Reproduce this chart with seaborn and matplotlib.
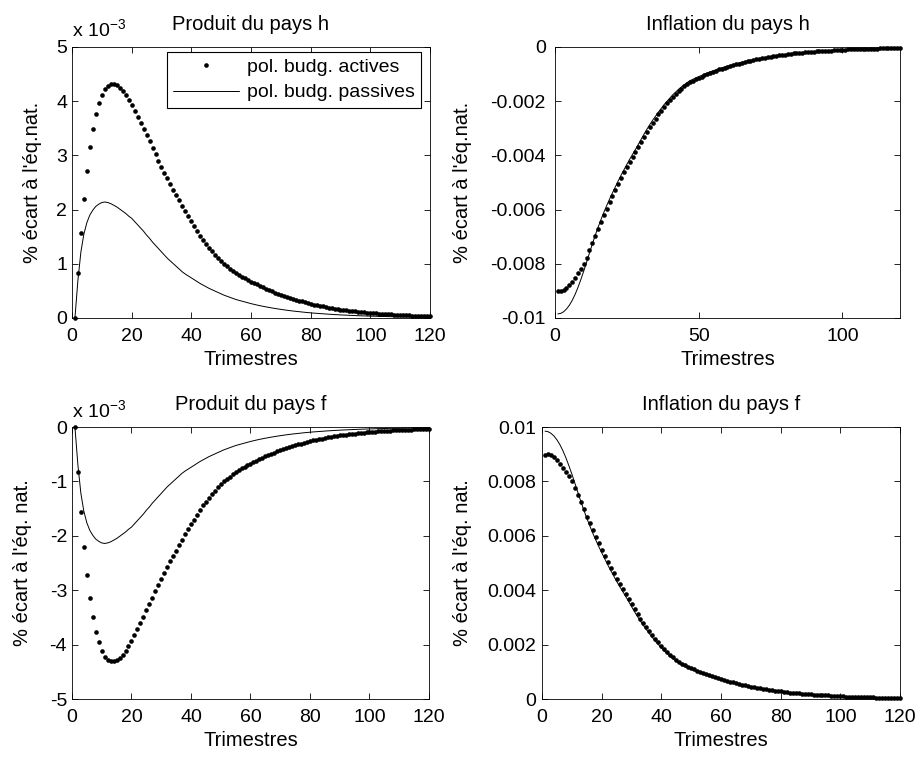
import matplotlib
matplotlib.use("Agg")
import matplotlib.pyplot as plt
import seaborn as sns

# Horizon (quarters)
trimestres = list(range(1, 121))

# Output responses, in units of 1e-3
produit_h_actives = [
    0.00, 0.83, 1.56, 2.20, 2.72, 3.15, 3.49, 3.76, 3.96, 4.12,
    4.22, 4.28, 4.31, 4.31, 4.29, 4.25, 4.19, 4.11, 4.02, 3.93,
    3.82, 3.71, 3.60, 3.49, 3.37, 3.26, 3.14, 3.02, 2.90, 2.79,
    2.68, 2.58, 2.47, 2.37, 2.27, 2.17, 2.07, 1.97, 1.88, 1.79,
    1.70, 1.61, 1.52, 1.44, 1.37, 1.30, 1.23, 1.17, 1.11, 1.05,
    1.00, 0.95, 0.91, 0.87, 0.83, 0.79, 0.76, 0.73, 0.70, 0.67,
    0.645, 0.62, 0.59, 0.565, 0.54, 0.515, 0.49, 0.47, 0.445, 0.425,
    0.405, 0.385, 0.365, 0.35, 0.335, 0.32, 0.305, 0.29, 0.275, 0.26,
    0.247, 0.235, 0.223, 0.212, 0.201, 0.191, 0.181, 0.172, 0.163, 0.155,
    0.147, 0.140, 0.133, 0.126, 0.120, 0.114, 0.108, 0.103, 0.098, 0.093,
    0.088, 0.084, 0.080, 0.076, 0.072, 0.068, 0.065, 0.062, 0.059, 0.056,
    0.053, 0.050, 0.048, 0.045, 0.043, 0.041, 0.039, 0.037, 0.035, 0.033,
]
produit_h_passives = [
    0.00, 0.70, 1.22, 1.55, 1.76, 1.90, 1.99, 2.06, 2.10, 2.13,
    2.14, 2.13, 2.11, 2.08, 2.05, 2.01, 1.97, 1.93, 1.88, 1.84,
    1.78, 1.72, 1.66, 1.60, 1.53, 1.47, 1.40, 1.34, 1.28, 1.22,
    1.16, 1.10, 1.05, 1.00, 0.95, 0.90, 0.85, 0.81, 0.775, 0.74,
    0.705, 0.67, 0.635, 0.605, 0.575, 0.545, 0.52, 0.495, 0.47, 0.445,
    0.42, 0.40, 0.38, 0.36, 0.34, 0.325, 0.31, 0.295, 0.28, 0.265,
    0.252, 0.239, 0.227, 0.216, 0.205, 0.195, 0.185, 0.176, 0.167, 0.159,
    0.151, 0.143, 0.136, 0.129, 0.123, 0.117, 0.111, 0.105, 0.100, 0.095,
    0.090, 0.086, 0.082, 0.078, 0.074, 0.070, 0.067, 0.063, 0.060, 0.057,
    0.054, 0.052, 0.049, 0.047, 0.044, 0.042, 0.040, 0.038, 0.036, 0.034,
    0.033, 0.031, 0.029, 0.028, 0.027, 0.025, 0.024, 0.023, 0.022, 0.021,
    0.020, 0.019, 0.018, 0.017, 0.016, 0.015, 0.014, 0.014, 0.013, 0.012,
]
produit_f_actives = [
    -0.00, -0.83, -1.56, -2.20, -2.72, -3.15, -3.49, -3.76, -3.96, -4.12,
    -4.22, -4.28, -4.31, -4.31, -4.29, -4.25, -4.19, -4.11, -4.02, -3.93,
    -3.82, -3.71, -3.60, -3.49, -3.37, -3.26, -3.14, -3.02, -2.90, -2.79,
    -2.68, -2.58, -2.47, -2.37, -2.27, -2.17, -2.07, -1.97, -1.88, -1.79,
    -1.70, -1.61, -1.52, -1.44, -1.37, -1.30, -1.23, -1.17, -1.11, -1.05,
    -1.00, -0.95, -0.91, -0.87, -0.83, -0.79, -0.76, -0.73, -0.70, -0.67,
    -0.645, -0.62, -0.59, -0.565, -0.54, -0.515, -0.49, -0.47, -0.445, -0.425,
    -0.405, -0.385, -0.365, -0.35, -0.335, -0.32, -0.305, -0.29, -0.275, -0.26,
    -0.247, -0.235, -0.223, -0.212, -0.201, -0.191, -0.181, -0.172, -0.163, -0.155,
    -0.147, -0.140, -0.133, -0.126, -0.120, -0.114, -0.108, -0.103, -0.098, -0.093,
    -0.088, -0.084, -0.080, -0.076, -0.072, -0.068, -0.065, -0.062, -0.059, -0.056,
    -0.053, -0.050, -0.048, -0.045, -0.043, -0.041, -0.039, -0.037, -0.035, -0.033,
]
produit_f_passives = [
    -0.00, -0.70, -1.22, -1.55, -1.76, -1.90, -1.99, -2.06, -2.10, -2.13,
    -2.14, -2.13, -2.11, -2.08, -2.05, -2.01, -1.97, -1.93, -1.88, -1.84,
    -1.78, -1.72, -1.66, -1.60, -1.53, -1.47, -1.40, -1.34, -1.28, -1.22,
    -1.16, -1.10, -1.05, -1.00, -0.95, -0.90, -0.85, -0.81, -0.775, -0.74,
    -0.705, -0.67, -0.635, -0.605, -0.575, -0.545, -0.52, -0.495, -0.47, -0.445,
    -0.42, -0.40, -0.38, -0.36, -0.34, -0.325, -0.31, -0.295, -0.28, -0.265,
    -0.252, -0.239, -0.227, -0.216, -0.205, -0.195, -0.185, -0.176, -0.167, -0.159,
    -0.151, -0.143, -0.136, -0.129, -0.123, -0.117, -0.111, -0.105, -0.100, -0.095,
    -0.090, -0.086, -0.082, -0.078, -0.074, -0.070, -0.067, -0.063, -0.060, -0.057,
    -0.054, -0.052, -0.049, -0.047, -0.044, -0.042, -0.040, -0.038, -0.036, -0.034,
    -0.033, -0.031, -0.029, -0.028, -0.027, -0.025, -0.024, -0.023, -0.022, -0.021,
    -0.020, -0.019, -0.018, -0.017, -0.016, -0.015, -0.014, -0.014, -0.013, -0.012,
]

# Inflation responses
inflation_h_actives = [
    -0.00899, -0.00901, -0.00898, -0.00891, -0.00879, -0.00866, -0.00851, -0.00835, -0.00820, -0.00801,
    -0.00777, -0.00750, -0.00723, -0.00697, -0.00671, -0.00646, -0.00621, -0.00597, -0.00573, -0.00549,
    -0.00526, -0.00504, -0.00483, -0.00463, -0.00443, -0.00424, -0.00406, -0.00388, -0.00369, -0.00350,
    -0.00331, -0.00313, -0.00296, -0.00280, -0.00264, -0.00249, -0.00235, -0.00221, -0.00208, -0.00196,
    -0.00184, -0.00173, -0.00163, -0.00154, -0.00145, -0.00137, -0.00130, -0.00124, -0.00119, -0.00114,
    -0.00109, -0.00104, -0.00100, -0.00095, -0.00091, -0.00087, -0.00083, -0.00080, -0.00076, -0.00073,
    -0.00070, -0.00067, -0.00064, -0.00061, -0.00058, -0.00055, -0.00053, -0.00050, -0.00048, -0.00046,
    -0.00044, -0.00042, -0.00040, -0.00038, -0.00036, -0.00034, -0.00033, -0.00031, -0.00030, -0.00028,
    -0.00027, -0.00026, -0.00024, -0.00023, -0.00022, -0.00021, -0.00020, -0.00019, -0.00018, -0.00017,
    -0.00016, -0.00015, -0.00015, -0.00014, -0.00013, -0.00013, -0.00012, -0.00011, -0.00011, -0.00010,
    -0.000096, -0.000091, -0.000087, -0.000083, -0.000079, -0.000075, -0.000071, -0.000068, -0.000065, -0.000062,
    -0.000059, -0.000056, -0.000053, -0.000051, -0.000048, -0.000046, -0.000044, -0.000042, -0.000040, -0.000038,
]
inflation_h_passives = [
    -0.00985, -0.00983, -0.00977, -0.00967, -0.00953, -0.00935, -0.00913, -0.00887, -0.00858, -0.00827,
    -0.00794, -0.00760, -0.00727, -0.00695, -0.00665, -0.00637, -0.00610, -0.00585, -0.00561, -0.00538,
    -0.00516, -0.00494, -0.00473, -0.00453, -0.00433, -0.00414, -0.00396, -0.00378, -0.00359, -0.00340,
    -0.00321, -0.00303, -0.00286, -0.00270, -0.00255, -0.00240, -0.00226, -0.00212, -0.00200, -0.00188,
    -0.00176, -0.00166, -0.00156, -0.00147, -0.00139, -0.00131, -0.00124, -0.00119, -0.00114, -0.00109,
    -0.00105, -0.00100, -0.00096, -0.00091, -0.00088, -0.00084, -0.00080, -0.00077, -0.00073, -0.00071,
    -0.00068, -0.00065, -0.00062, -0.00059, -0.00056, -0.00054, -0.00052, -0.00049, -0.00047, -0.00045,
    -0.00043, -0.00041, -0.00039, -0.00037, -0.00035, -0.00034, -0.00032, -0.00031, -0.00029, -0.00028,
    -0.00026, -0.00025, -0.00024, -0.00023, -0.00022, -0.00021, -0.00020, -0.00019, -0.00018, -0.00017,
    -0.00016, -0.00015, -0.00014, -0.00014, -0.00013, -0.00012, -0.00012, -0.00011, -0.00011, -0.00010,
    -0.000095, -0.000090, -0.000086, -0.000082, -0.000078, -0.000074, -0.000070, -0.000067, -0.000064, -0.000061,
    -0.000058, -0.000055, -0.000052, -0.000050, -0.000047, -0.000045, -0.000043, -0.000041, -0.000039, -0.000037,
]
inflation_f_actives = [
    0.00899, 0.00901, 0.00898, 0.00891, 0.00879, 0.00866, 0.00851, 0.00835, 0.00820, 0.00801,
    0.00777, 0.00750, 0.00723, 0.00697, 0.00671, 0.00646, 0.00621, 0.00597, 0.00573, 0.00549,
    0.00526, 0.00504, 0.00483, 0.00463, 0.00443, 0.00424, 0.00406, 0.00388, 0.00369, 0.00350,
    0.00331, 0.00313, 0.00296, 0.00280, 0.00264, 0.00249, 0.00235, 0.00221, 0.00208, 0.00196,
    0.00184, 0.00173, 0.00163, 0.00154, 0.00145, 0.00137, 0.00130, 0.00124, 0.00119, 0.00114,
    0.00109, 0.00104, 0.00100, 0.00095, 0.00091, 0.00087, 0.00083, 0.00080, 0.00076, 0.00073,
    0.00070, 0.00067, 0.00064, 0.00061, 0.00058, 0.00055, 0.00053, 0.00050, 0.00048, 0.00046,
    0.00044, 0.00042, 0.00040, 0.00038, 0.00036, 0.00034, 0.00033, 0.00031, 0.00030, 0.00028,
    0.00027, 0.00026, 0.00024, 0.00023, 0.00022, 0.00021, 0.00020, 0.00019, 0.00018, 0.00017,
    0.00016, 0.00015, 0.00015, 0.00014, 0.00013, 0.00013, 0.00012, 0.00011, 0.00011, 0.00010,
    0.000096, 0.000091, 0.000087, 0.000083, 0.000079, 0.000075, 0.000071, 0.000068, 0.000065, 0.000062,
    0.000059, 0.000056, 0.000053, 0.000051, 0.000048, 0.000046, 0.000044, 0.000042, 0.000040, 0.000038,
]
inflation_f_passives = [
    0.00985, 0.00983, 0.00977, 0.00967, 0.00953, 0.00935, 0.00913, 0.00887, 0.00858, 0.00827,
    0.00794, 0.00760, 0.00727, 0.00695, 0.00665, 0.00637, 0.00610, 0.00585, 0.00561, 0.00538,
    0.00516, 0.00494, 0.00473, 0.00453, 0.00433, 0.00414, 0.00396, 0.00378, 0.00359, 0.00340,
    0.00321, 0.00303, 0.00286, 0.00270, 0.00255, 0.00240, 0.00226, 0.00212, 0.00200, 0.00188,
    0.00176, 0.00166, 0.00156, 0.00147, 0.00139, 0.00131, 0.00124, 0.00119, 0.00114, 0.00109,
    0.00105, 0.00100, 0.00096, 0.00091, 0.00088, 0.00084, 0.00080, 0.00077, 0.00073, 0.00071,
    0.00068, 0.00065, 0.00062, 0.00059, 0.00056, 0.00054, 0.00052, 0.00049, 0.00047, 0.00045,
    0.00043, 0.00041, 0.00039, 0.00037, 0.00035, 0.00034, 0.00032, 0.00031, 0.00029, 0.00028,
    0.00026, 0.00025, 0.00024, 0.00023, 0.00022, 0.00021, 0.00020, 0.00019, 0.00018, 0.00017,
    0.00016, 0.00015, 0.00014, 0.00014, 0.00013, 0.00012, 0.00012, 0.00011, 0.00011, 0.00010,
    0.000095, 0.000090, 0.000086, 0.000082, 0.000078, 0.000074, 0.000070, 0.000067, 0.000064, 0.000061,
    0.000058, 0.000055, 0.000052, 0.000050, 0.000047, 0.000045, 0.000043, 0.000041, 0.000039, 0.000037,
]

legend_labels = ["pol. budg. actives", "pol. budg. passives"]
xticks_20 = [0, 20, 40, 60, 80, 100, 120]
xticks_50 = [0, 50, 100]

sns.set_theme(style="white")
plt.rcParams.update({
    "font.family": ["Liberation Sans", "DejaVu Sans"],
    "mathtext.fontset": "custom",
    "mathtext.rm": "Liberation Sans",
    "axes.unicode_minus": False,
    "axes.edgecolor": "black",
    "axes.linewidth": 0.6,
    "axes.labelcolor": "black",
    "text.color": "black",
    "xtick.color": "black",
    "ytick.color": "black",
})

TICK_FS = 14
LABEL_FS = 14.5
TITLE_FS = 14.5

panels = [
    dict(rect=[0.0783, 0.5805, 0.3896, 0.3575], title="Produit du pays h",
         act=produit_h_actives, pas=produit_h_passives,
         ylim=(0, 5), yticks=[0, 1, 2, 3, 4, 5],
         xticks=xticks_20, mult=True, ylabel="% écart à l'éq.nat.",
         ylab_x=-0.084, ypad=3.5, legend=True),
    dict(rect=[0.6039, 0.5805, 0.3754, 0.3575], title="Inflation du pays h",
         act=inflation_h_actives, pas=inflation_h_passives,
         ylim=(-0.01, 0), yticks=[-0.01, -0.008, -0.006, -0.004, -0.002, 0],
         xticks=xticks_50, mult=False, ylabel="% écart à l'éq.nat.",
         ylab_x=-0.241, ypad=6.5, legend=False),
    dict(rect=[0.0783, 0.0778, 0.3885, 0.3588], title="Produit du pays f",
         act=produit_f_actives, pas=produit_f_passives,
         ylim=(-5, 0), yticks=[-5, -4, -3, -2, -1, 0],
         xticks=xticks_20, mult=True, ylabel="% écart à l'éq. nat.",
         ylab_x=-0.112, ypad=3.5, legend=False),
    dict(rect=[0.5898, 0.0778, 0.3896, 0.3588], title="Inflation du pays f",
         act=inflation_f_actives, pas=inflation_f_passives,
         ylim=(0, 0.01), yticks=[0, 0.002, 0.004, 0.006, 0.008, 0.01],
         xticks=xticks_20, mult=False, ylabel="% écart à l'éq. nat.",
         ylab_x=-0.196, ypad=4, legend=False),
]

fig = plt.figure(figsize=(9.19, 7.58), dpi=100)

for p in panels:
    ax = fig.add_axes(p["rect"])
    sns.scatterplot(x=trimestres, y=p["act"], ax=ax, color="black", s=11,
                    linewidth=0, clip_on=False, zorder=3,
                    label=legend_labels[0] if p["legend"] else None)
    sns.lineplot(x=trimestres, y=p["pas"], ax=ax, color="black", linewidth=0.7,
                 estimator=None, zorder=4,
                 label=legend_labels[1] if p["legend"] else None)

    ax.set_xlim(0, 120)
    ax.set_ylim(*p["ylim"])
    ax.set_xticks(p["xticks"])
    ax.set_xticklabels([str(t) for t in p["xticks"]])
    ax.set_yticks(p["yticks"])
    ax.set_yticklabels(["{:g}".format(v) for v in p["yticks"]])
    ax.tick_params(axis="both", direction="in", top=True, right=True,
                   bottom=True, left=True, length=4, width=0.6,
                   labelsize=TICK_FS, colors="black")
    ax.tick_params(axis="x", pad=7)
    ax.tick_params(axis="y", pad=p["ypad"])
    for s in ax.spines.values():
        s.set_visible(True)
        s.set_color("black")
        s.set_linewidth(0.6)

    ax.set_title(p["title"], fontsize=TITLE_FS, pad=12)
    ax.set_xlabel("Trimestres", fontsize=LABEL_FS, labelpad=4)
    ax.set_ylabel(p["ylabel"], fontsize=LABEL_FS)
    ax.yaxis.set_label_coords(p["ylab_x"], 0.5)

    if p["mult"]:
        ax.text(0.0, 1.02, r"x 10$^{\mathdefault{-3}}$", transform=ax.transAxes,
                ha="left", va="bottom", fontsize=TICK_FS)

    if p["legend"]:
        leg = ax.legend(loc="upper right", bbox_to_anchor=(0.975, 0.982),
                        frameon=True, fancybox=False, framealpha=1,
                        edgecolor="black", fontsize=14, handlelength=3.4,
                        handletextpad=0.4, borderpad=0.32, labelspacing=0.42,
                        borderaxespad=0, scatterpoints=1, scatteryoffsets=[0.5])
        leg.get_frame().set_linewidth(0.8)
    else:
        if ax.get_legend() is not None:
            ax.get_legend().remove()

fig.savefig("out.png", dpi=100)
